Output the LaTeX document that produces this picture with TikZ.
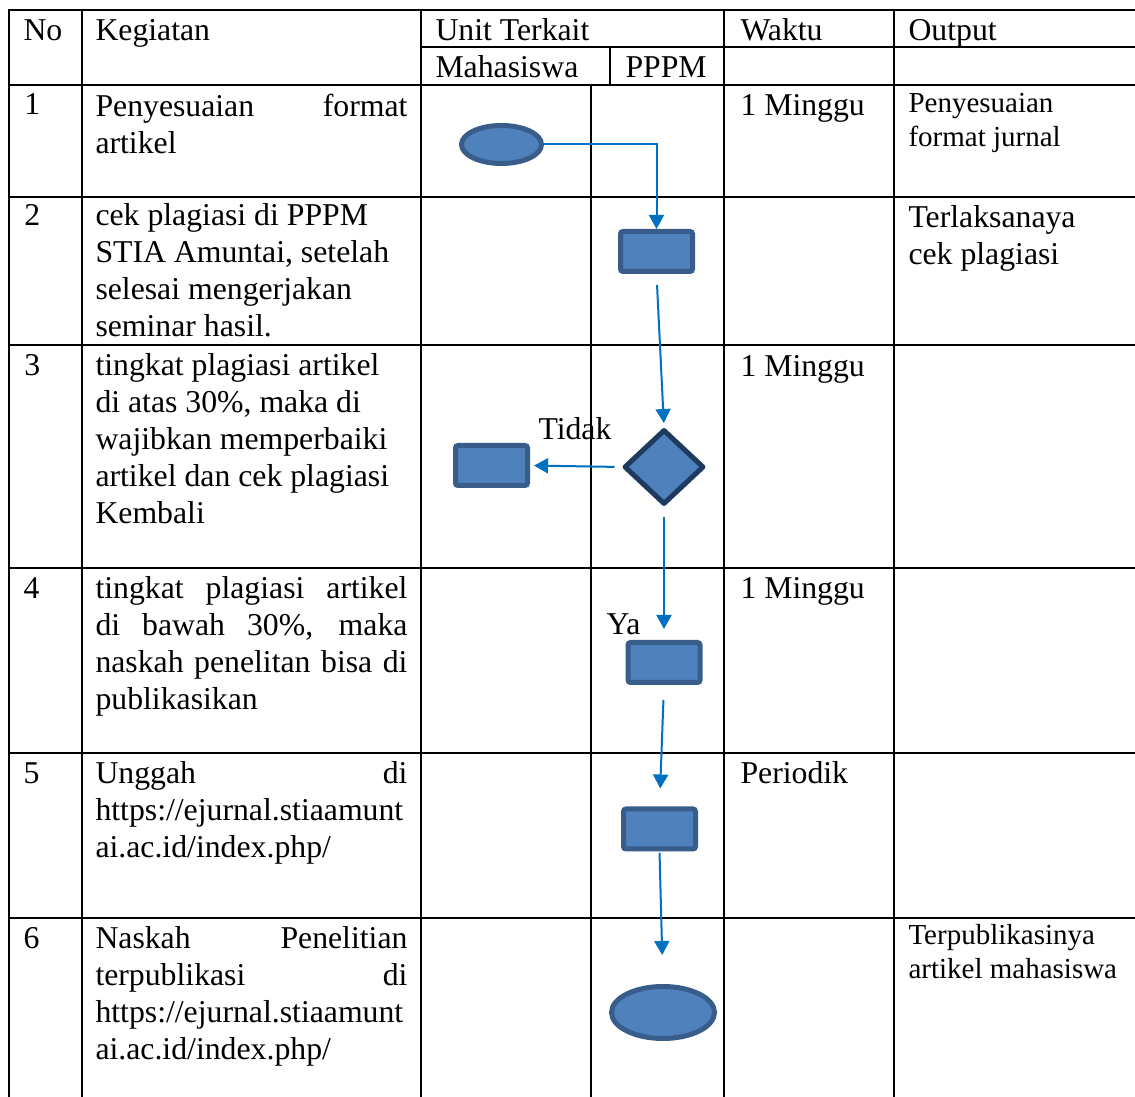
\documentclass[tikz,border=0pt]{standalone}
\usepackage{fontspec}
\setmainfont{Liberation Serif}
\usetikzlibrary{shapes.geometric,arrows.meta}

\definecolor{boxfill}{HTML}{4F81BD}
\definecolor{boxline}{HTML}{385D8A}
\definecolor{decline}{HTML}{1F3A5F}
\definecolor{flowblue}{HTML}{0070C0}

\newlength\kgwidth
\setlength\kgwidth{124.8pt}
\newcommand\jline[1]{\makebox[\kgwidth][s]{\spaceskip=0pt\xspaceskip=0pt\relax #1}}

\tikzset{
    tabline/.style = {line width=1pt, line cap=rect},
    cell/.style = {anchor=base west, inner sep=0pt, font=\fontsize{12.7pt}{14.8pt}\selectfont},
    kegiatan/.style = {cell, text width=\kgwidth, align=flush left},
    outbig/.style = {cell, text width=90pt, align=flush left},
    outsmall/.style = {cell, text width=90pt, align=flush left, font=\fontsize{11.6pt}{13.6pt}\selectfont},
    terminal/.style = {ellipse, fill=boxfill, draw=boxline, line width=2pt, inner sep=0pt},
    process/.style = {rectangle, rounded corners=1pt, fill=boxfill, draw=boxline, line width=2pt,
        minimum width=28.8pt, minimum height=16pt, inner sep=0pt},
    decision/.style = {diamond, fill=boxfill, draw=decline, line width=2pt, line join=round,
        minimum width=32pt, minimum height=30pt, inner sep=0pt},
    flow/.style = {draw=flowblue, line width=0.8pt, -{Triangle[width=6pt,length=5.6pt]}}
}

\begin{document}
\begin{tikzpicture}[x=0.4pt,y=-0.4pt]
    \useasboundingbox (0,0) rectangle (1135,1097);

    % table
    \foreach \y in {10,85,197,345,568,753,918}
        \draw[tabline] (9,\y) -- (1135,\y);
    \draw[tabline] (421,47) -- (1135,47);
    \foreach \x in {9,82,421,724,894}
        \draw[tabline] (\x,10) -- (\x,1097);
    \draw[tabline] (610,47) -- (610,85);
    \draw[tabline] (591,85) -- (591,1097);

    % header
    \node[cell] (hno) at (23,41) {No};
    \node[cell] (hkeg) at (95,41) {Kegiatan};
    \node[cell] (hunit) at (435,41) {Unit Terkait};
    \node[cell] (hwaktu) at (740,41) {Waktu};
    \node[cell] (hout) at (908,41) {Output};
    \node[cell] (hmhs) at (435,78) {Mahasiswa};
    \node[cell] (hpppm) at (625,78) {PPPM};

    % rows
    \node[cell] (no1) at (24,115) {1};
    \node[cell] (no2) at (24,226) {2};
    \node[cell] (no3) at (24,376) {3};
    \node[cell] (no4) at (23,599) {4};
    \node[cell] (no5) at (23,784) {5};
    \node[cell] (no6) at (23,949) {6};

    \node[kegiatan] (keg1) at (95,117) {\jline{Penyesuaian format}\\artikel};
    \node[kegiatan] (keg2) at (95,226) {cek plagiasi di PPPM\\STIA Amuntai, setelah\\selesai mengerjakan\\seminar hasil.};
    \node[kegiatan] (keg3) at (95,376) {tingkat plagiasi artikel\\di atas 30\%, maka di\\wajibkan memperbaiki\\artikel dan cek plagiasi\\Kembali};
    \node[kegiatan] (keg4) at (95,599) {\jline{tingkat plagiasi artikel}\\\jline{di bawah 30\%, maka}\\\jline{naskah penelitan bisa di}\\publikasikan};
    \node[kegiatan] (keg5) at (95,784) {\jline{Unggah di}\\https://ejurnal.stiaamunt\\ai.ac.id/index.php/};
    \node[kegiatan] (keg6) at (95,949) {\jline{Naskah Penelitian}\\\jline{terpublikasi di}\\https://ejurnal.stiaamunt\\ai.ac.id/index.php/};

    \node[cell] (waktu1) at (740,116) {1 Minggu};
    \node[cell] (waktu3) at (740,377) {1 Minggu};
    \node[cell] (waktu4) at (740,599) {1 Minggu};
    \node[cell] (waktu5) at (740,784) {Periodik};

    \node[outsmall] (out1) at (908,113) {Penyesuaian\\format jurnal};
    \node[outbig] (out2) at (908,228) {Terlaksanaya\\cek plagiasi};
    \node[outsmall] (out6) at (908,945) {Terpublikasinya\\artikel mahasiswa};

    % flow
    \node[terminal, minimum width=32pt, minimum height=15.2pt] (start) at (501.5,144.5) {};
    \node[process] (cek) at (656.5,251.5) {};
    \node[decision] (tingkat) at (664,467) {};
    \node[process] (perbaiki) at (491.5,465.5) {};
    \node[process] (terima) at (664,662.5) {};
    \node[process] (unggah) at (659.5,829) {};
    \node[terminal, minimum width=41.2pt, minimum height=20.8pt] (terbit) at (663,1012.5) {};

    \draw[flow] (start.east) -| (cek.north);
    \draw[flow, shorten <=4.4pt, shorten >=1.6pt] (cek.south) -- (tingkat.north);
    \draw[flow, shorten <=2.8pt, shorten >=1.6pt] (tingkat.west) -- (perbaiki.east);
    \draw[flow, shorten <=4pt, shorten >=4.4pt] (tingkat.south) -- (terima.north);
    \draw[flow, shorten <=6pt, shorten >=7.2pt] (terima.south) -- (unggah.north);
    \draw[flow, shorten <=0.5pt, shorten >=11.6pt] (unggah.south) -- (terbit.north);

    \node[cell] (tidak) at (538,440) {Tidak};
    \node[cell] (ya) at (606,635) {Ya};
\end{tikzpicture}
\end{document}
